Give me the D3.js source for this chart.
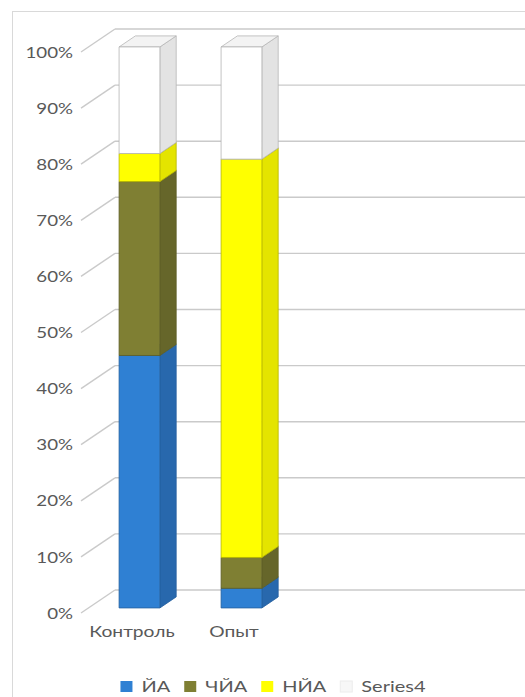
<!DOCTYPE html>
<html>
<head>
<meta charset="utf-8">
<script src="https://cdn.jsdelivr.net/npm/d3@7"></script>
<style>
  html, body { margin: 0; padding: 0; background: #fff; }
  svg { display: block; }
  text { font-family: Lato, "Open Sans", sans-serif; fill: #595959; }
</style>
</head>
<body>
<script>
// Categories and stacked series (percent shares)
const categories = ["Контроль", "Опыт"];
const seriesNames = ["ЙА", "ЧЙА", "НЙА", "Series4"];
const valuesYA = [45, 3.5];
const valuesCHYA = [31, 5.5];
const valuesNYA = [5, 71];
const valuesSeries4 = [19, 20];
const tickValues = [0, 0.1, 0.2, 0.3, 0.4, 0.5, 0.6, 0.7, 0.8, 0.9, 1];
const tickLabels = ["0%", "10%", "20%", "30%", "40%", "50%", "60%", "70%", "80%", "90%", "100%"];

const frontColors = ["#2f80d3", "#7f7f33", "#ffff00", "#ffffff"];
const sideColors = ["#2868ad", "#66662a", "#e4e400", "#e3e3e3"];
const topColors = ["#5a9be0", "#94944a", "#ffff66", "#f3f3f3"];
const edgeColors = ["#24609e", "#5e5e26", "#b8b800", "#b5b5b5"];

const W = 525, H = 697;
const textScale = 1.2;

const rows = categories.map((c, i) => ({
  cat: c,
  "ЙА": valuesYA[i],
  "ЧЙА": valuesCHYA[i],
  "НЙА": valuesNYA[i],
  "Series4": valuesSeries4[i]
}));
const stacked = d3.stack().keys(seriesNames).offset(d3.stackOffsetExpand)(rows);

const svg = d3.select("body").append("svg").attr("width", W).attr("height", H);

// chart frame
svg.append("rect")
  .attr("x", 12.5).attr("y", 11.5)
  .attr("width", 522).attr("height", 720)
  .attr("fill", "#fff").attr("stroke", "#d9d9d9").attr("stroke-width", 1);

// front-plane scales plus an oblique depth offset for the 3D look
const x = d3.scaleBand().domain(categories).range([81, 81 + 2 * 102])
  .paddingInner(0.6).paddingOuter(0.3);
const y = d3.scaleLinear().domain([0, 1]).range([613, 52]);
const depthX = 34, depthY = 23;
const barFront = 0.22, barBack = 0.70;
const proj = (px, v, d) => [px + d * depthX, y(v) - d * depthY];
const plotLeft = x.range()[0];

// back wall gridlines
const grid = svg.append("g");
grid.selectAll("line.back").data(tickValues).join("line")
  .attr("class", "back")
  .attr("x1", d => proj(plotLeft, d, 1)[0])
  .attr("y1", d => proj(plotLeft, d, 1)[1])
  .attr("x2", W + 10)
  .attr("y2", d => proj(plotLeft, d, 1)[1])
  .attr("stroke", "#cacaca").attr("stroke-width", 1.4);

// side wall gridlines
grid.selectAll("line.side").data(tickValues).join("line")
  .attr("class", "side")
  .attr("x1", d => proj(plotLeft, d, 0)[0])
  .attr("y1", d => proj(plotLeft, d, 0)[1])
  .attr("x2", d => proj(plotLeft, d, 1)[0])
  .attr("y2", d => proj(plotLeft, d, 1)[1])
  .attr("stroke", "#cacaca").attr("stroke-width", 1.4);

// value axis labels
svg.append("g").selectAll("text").data(tickValues).join("text")
  .attr("transform", d => `translate(73,${y(d)}) scale(1.17,1)`)
  .attr("dy", "0.35em")
  .attr("text-anchor", "end")
  .attr("font-size", 16)
  .text((d, i) => tickLabels[i]);

// category labels
svg.append("g").selectAll("text").data(categories).join("text")
  .attr("transform", d => `translate(${x(d) + x.bandwidth() / 2},637) scale(${textScale},1)`)
  .attr("text-anchor", "middle")
  .attr("font-size", 16)
  .text(d => d);

// 3D stacked columns
const poly = pts => "M" + pts.map(p => p.join(",")).join("L") + "Z";
const bars = svg.append("g");
categories.forEach((cat, ci) => {
  const xl = x(cat), xr = x(cat) + x.bandwidth();
  stacked.forEach((layer, si) => {
    const v0 = layer[ci][0], v1 = layer[ci][1];
    if (v1 - v0 <= 0) return;
    const g = bars.append("g")
      .attr("stroke", edgeColors[si]).attr("stroke-width", 0.8)
      .attr("stroke-linejoin", "round");
    g.append("path").attr("fill", sideColors[si]).attr("d", poly([
      proj(xr, v0, barFront), proj(xr, v0, barBack), proj(xr, v1, barBack), proj(xr, v1, barFront)
    ]));
    g.append("path").attr("fill", topColors[si]).attr("d", poly([
      proj(xl, v1, barFront), proj(xr, v1, barFront), proj(xr, v1, barBack), proj(xl, v1, barBack)
    ]));
    g.append("path").attr("fill", frontColors[si]).attr("d", poly([
      proj(xl, v0, barFront), proj(xr, v0, barFront), proj(xr, v1, barFront), proj(xl, v1, barFront)
    ]));
  });
});

// legend
const legend = svg.append("g");
const items = legend.selectAll("g").data(seriesNames).join("g");
items.append("rect")
  .attr("width", 12).attr("height", 11).attr("y", -11)
  .attr("fill", (d, i) => i === 3 ? "#f7f7f7" : frontColors[i])
  .attr("stroke", (d, i) => i === 3 ? "#ececec" : "none");
items.append("text")
  .attr("transform", `translate(21,0) scale(1.25,1)`)
  .attr("font-size", 16)
  .text(d => d);
const widths = [];
items.each(function() {
  const t = d3.select(this).select("text").node();
  widths.push(21 + t.getComputedTextLength() * 1.25);
});
const gap = 14;
const total = d3.sum(widths) + gap * (widths.length - 1);
const startX = 273 - total / 2;
items.attr("transform", (d, i) => {
  const xpos = startX + d3.sum(widths.slice(0, i)) + gap * i;
  return `translate(${xpos},692)`;
});
</script>
</body>
</html>
